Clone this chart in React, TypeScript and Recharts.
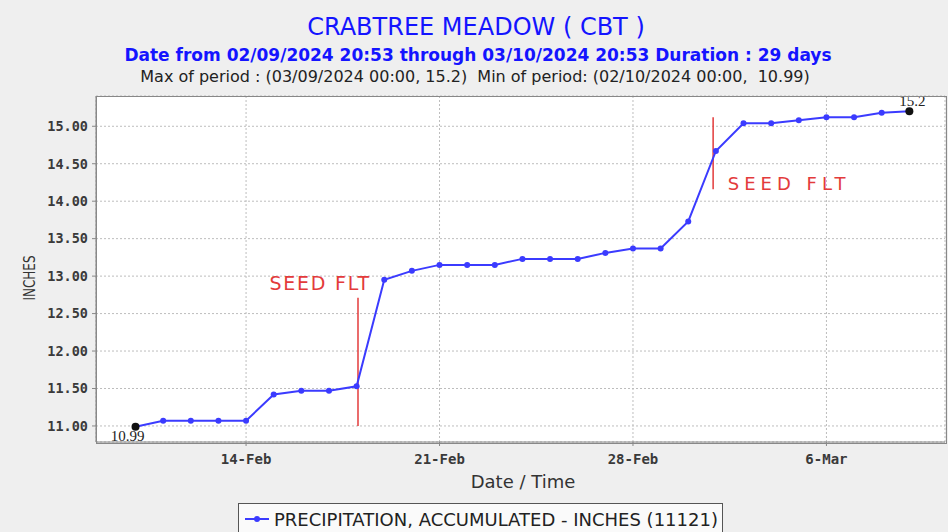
import { LineChart, Line, XAxis, YAxis, CartesianGrid, ReferenceLine, ReferenceDot } from "recharts";

// daily readings, day number counted from Feb 0 (2024 is a leap year, so Mar 1 = 30)
const DATES = [
  "02/10", "02/11", "02/12", "02/13", "02/14", "02/15", "02/16", "02/17", "02/18", "02/19",
  "02/20", "02/21", "02/22", "02/23", "02/24", "02/25", "02/26", "02/27", "02/28", "02/29",
  "03/01", "03/02", "03/03", "03/04", "03/05", "03/06", "03/07", "03/08", "03/09",
];
const DAY_NUM = [
  10, 11, 12, 13, 14, 15, 16, 17, 18, 19,
  20, 21, 22, 23, 24, 25, 26, 27, 28, 29,
  30, 31, 32, 33, 34, 35, 36, 37, 38,
];
const PRECIP = [
  10.99, 11.07, 11.07, 11.07, 11.07, 11.42, 11.47, 11.47, 11.53, 12.95,
  13.07, 13.15, 13.15, 13.15, 13.23, 13.23, 13.23, 13.31, 13.37, 13.37,
  13.73, 14.67, 15.04, 15.04, 15.08, 15.12, 15.12, 15.18, 15.2,
];

const X_TICKS = [14, 21, 28, 35];
const X_TICK_LABELS = ["14-Feb", "21-Feb", "28-Feb", "6-Mar"];
const Y_TICKS = [11, 11.5, 12, 12.5, 13, 13.5, 14, 14.5, 15];

// seeding flight markers: day, bottom, top of the red line, then where the note sits
const SEED_DAYS = [18.05, 30.9];
const SEED_FROM = [11.0, 14.16];
const SEED_TO = [12.71, 15.12];
const SEED_NOTE_DAY = [16.68, 33.65];
const SEED_NOTE_VAL = [12.907, 14.24];

const BLUE = "#3b3bff";
const RED = "#e33b3b";
const MONO = "'DejaVu Sans Mono', monospace";
const SANS = "'DejaVu Sans', sans-serif";

const data = DATES.map((d, i) => ({ date: d, day: DAY_NUM[i], value: PRECIP[i] }));
const lastIdx = PRECIP.length - 1;

function Dot(props: any) {
  const { cx, cy, index } = props;
  const special = index === 0 || index === lastIdx;
  return (
    <circle key={`d${index}`} cx={cx} cy={cy} r={special ? 4 : 3} fill={special ? "#111" : BLUE} stroke="none" />
  );
}

function PointLabel(props: any) {
  const { x, y, index, value } = props;
  if (index === 0) {
    return (
      <text x={x - 8} y={y + 14} textAnchor="middle" fontFamily="'Liberation Serif', serif" fontSize={15} fill="#222">
        {String(value)}
      </text>
    );
  }
  if (index === lastIdx) {
    return (
      <text x={x + 3} y={y - 5} textAnchor="middle" fontFamily="'Liberation Serif', serif" fontSize={15} fill="#222">
        {String(value)}
      </text>
    );
  }
  return null;
}

const centered = (top: number, extra: any) => ({
  position: "absolute" as const,
  left: 0,
  top,
  width: 948,
  textAlign: "center" as const,
  fontFamily: SANS,
  whiteSpace: "nowrap" as const,
  lineHeight: 1,
  ...extra,
});

export default function App() {
  return (
    <div style={{ position: "absolute", left: 0, top: 0, width: 948, height: 532, background: "#efefef", overflow: "hidden" }}>
      <div style={centered(15, { fontSize: 24, color: "#1414ff", left: 2 })}>CRABTREE MEADOW ( CBT )</div>
      <div style={centered(47, { fontSize: 17, fontWeight: "bold", color: "#1414ff", left: 4 })}>
        Date from 02/09/2024 20:53 through 03/10/2024 20:53 Duration : 29 days
      </div>
      <div style={centered(69, { fontSize: 16, color: "#222", left: 1 })}>
        Max of period : (03/09/2024 00:00, 15.2)&nbsp; Min of period: (02/10/2024 00:00,&nbsp; 10.99)
      </div>

      <LineChart width={948} height={532} data={data} margin={{ top: 96, right: 3, bottom: 60, left: 36 }} style={{ position: "absolute", left: 0, top: 0 }}>
        <CartesianGrid stroke="#bdbdbd" strokeDasharray="2 2" fill="#ffffff" />
        <XAxis
          dataKey="day"
          type="number"
          domain={[8.57, 39.29]}
          allowDataOverflow
          ticks={X_TICKS}
          tickFormatter={(v: number) => X_TICK_LABELS[X_TICKS.indexOf(v)]}
          height={30}
          stroke="#888"
          tickSize={4}
          tickMargin={8}
          tick={{ fontFamily: MONO, fontSize: 14, fontWeight: "bold", fill: "#3a3a3a" }}
        />
        <YAxis
          type="number"
          domain={[10.786, 15.404]}
          allowDataOverflow
          ticks={Y_TICKS}
          tickFormatter={(v: number) => v.toFixed(2)}
          width={60}
          stroke="#888"
          tickSize={4}
          tickMargin={4}
          tick={{ fontFamily: MONO, fontSize: 13.5, fontWeight: "bold", fill: "#3a3a3a" }}
        />
        {SEED_DAYS.map((d, i) => (
          <ReferenceLine
            key={`seed${i}`}
            segment={[{ x: d, y: SEED_FROM[i] }, { x: d, y: SEED_TO[i] }]}
            stroke={RED}
            strokeWidth={1.5}
          />
        ))}
        {SEED_DAYS.map((_, i) => (
          <ReferenceDot
            key={`note${i}`}
            x={SEED_NOTE_DAY[i]}
            y={SEED_NOTE_VAL[i]}
            r={0}
            stroke="none"
            fill="none"
            label={{
              value: "SEED FLT",
              position: "center",
              fill: RED,
              fontSize: i === 0 ? 19 : 18,
              fontFamily: SANS,
              letterSpacing: i === 0 ? 1.75 : 5,
            }}
          />
        ))}
        <Line
          type="linear"
          dataKey="value"
          stroke={BLUE}
          strokeWidth={2}
          dot={Dot}
          activeDot={false}
          label={PointLabel}
          isAnimationActive={false}
        />
      </LineChart>

      {/* plot frame */}
      <div style={{ position: "absolute", left: 96, top: 96, width: 849, height: 346, border: "1px solid #888", pointerEvents: "none" }} />

      <div style={{ position: "absolute", left: 30, top: 278, transform: "translate(-50%, -50%) rotate(-90deg) scaleX(0.8)", fontFamily: SANS, fontSize: 15, color: "#333", whiteSpace: "nowrap" }}>
        INCHES
      </div>
      <div style={{ position: "absolute", left: 523, top: 481, transform: "translate(-50%, -50%)", fontFamily: SANS, fontSize: 18, color: "#333", whiteSpace: "nowrap" }}>
        Date / Time
      </div>

      {/* legend */}
      <div style={{ position: "absolute", left: 238, top: 503, width: 485, height: 36, border: "1px solid #555", background: "#fafafa", display: "flex", alignItems: "center", boxSizing: "border-box", paddingLeft: 6, paddingBottom: 4 }}>
        <svg width={24} height={10} style={{ marginRight: 5 }}>
          <line x1={0} y1={5} x2={24} y2={5} stroke={BLUE} strokeWidth={2} />
          <circle cx={12} cy={5} r={3} fill={BLUE} />
        </svg>
        <span style={{ fontFamily: SANS, fontSize: 18, color: "#222", whiteSpace: "nowrap" }}>
          PRECIPITATION, ACCUMULATED - INCHES (11121)
        </span>
      </div>
    </div>
  );
}
